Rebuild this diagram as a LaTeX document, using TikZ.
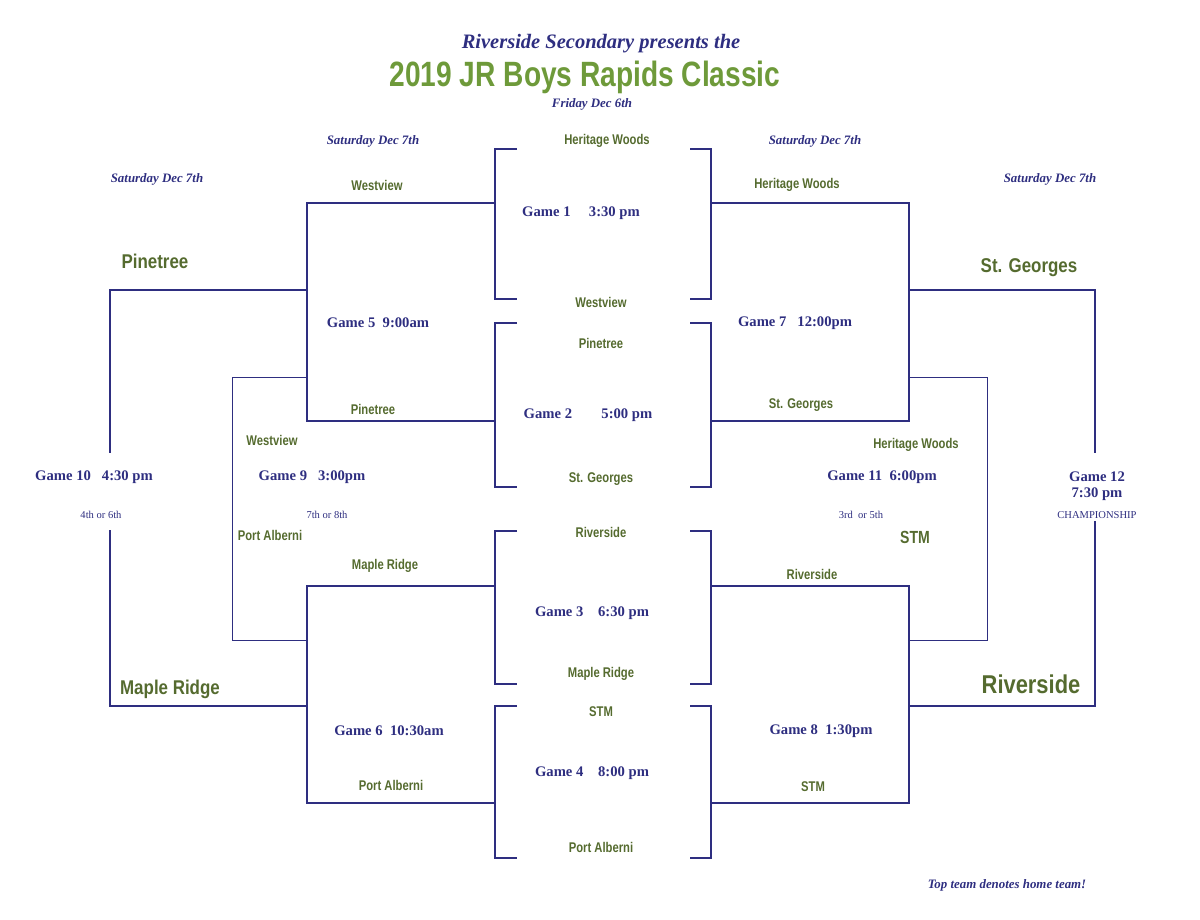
\documentclass[tikz,border=0pt]{standalone}
\usepackage{fontspec}
\setmainfont{Liberation Serif}
\newfontfamily\lab{Liberation Sans}
\definecolor{navy}{HTML}{2E2E80}
\definecolor{grn}{HTML}{556B2F}
\definecolor{ttl}{HTML}{6E9A3A}
\begin{document}
\begin{tikzpicture}[x=0.03cm,y=-0.03cm,
  br/.style={draw=navy,line width=1.6pt},
  thin/.style={draw=navy,line width=0.7pt},
  gm/.style={text=navy,font=\bfseries\fontsize{12.5}{14}\selectfont},
  tm/.style={text=grn,font=\lab\bfseries\fontsize{12}{14}\selectfont,xscale=0.8},
  bt/.style={text=grn,font=\lab\bfseries\fontsize{17}{19}\selectfont,xscale=0.85},
  dt/.style={text=navy,font=\bfseries\itshape\fontsize{11}{13}\selectfont},
  sm/.style={text=navy,font=\fontsize{9}{10}\selectfont}]
\useasboundingbox (0,0) rectangle (1200,919);
% titles
\node[text=navy,font=\bfseries\itshape\fontsize{17.5}{20}\selectfont] (t1) at (601,44) {Riverside Secondary presents the};
\node[text=ttl,font=\lab\bfseries\fontsize{30}{32}\selectfont,xscale=0.8] (t2) at (585,77) {2019 JR Boys Rapids Classic};
\node[dt] (t3) at (592,104) {Friday Dec 6th};
\node[dt] (d1) at (373,141) {Saturday Dec 7th};
\node[dt] (d2) at (815,141) {Saturday Dec 7th};
\node[dt] (d3) at (157,179) {Saturday Dec 7th};
\node[dt] (d4) at (1050,179) {Saturday Dec 7th};
\node[dt] (note) at (1007,885) {Top team denotes home team!};
% center brackets
\foreach \a/\b in {149/299,323/487,531/684,706/858}{
  \draw[br] (517,\a) -- (495,\a) -- (495,\b) -- (517,\b);
  \draw[br] (690,\a) -- (711,\a) -- (711,\b) -- (690,\b);
}
% second round
\draw[br] (495,203) -- (307,203) -- (307,421) -- (495,421);
\draw[br] (711,203) -- (909,203) -- (909,421) -- (711,421);
\draw[br] (495,586) -- (307,586) -- (307,803) -- (495,803);
\draw[br] (711,586) -- (909,586) -- (909,803) -- (711,803);
% finals
\draw[br] (307,290) -- (110,290) -- (110,453);
\draw[br] (110,530) -- (110,706) -- (307,706);
\draw[br] (909,290) -- (1095,290) -- (1095,453);
\draw[br] (1095,521) -- (1095,706) -- (909,706);
\draw[thin] (307,377) -- (232,377) -- (232,640) -- (307,640);
\draw[thin] (909,377) -- (987,377) -- (987,640) -- (909,640);
% game labels
\node[gm] (g1) at (581,213) {Game 1\quad\ 3:30 pm};
\node[gm] (g2) at (588,415) {Game 2\qquad 5:00 pm};
\node[gm] (g3) at (592,613) {Game 3\quad 6:30 pm};
\node[gm] (g4) at (592,773) {Game 4\quad 8:00 pm};
\node[gm] (g5) at (378,323) {Game 5\ \ 9:00am};
\node[gm] (g6) at (389,731) {Game 6\ \ 10:30am};
\node[gm] (g7) at (795,323) {Game 7\ \ \ 12:00pm};
\node[gm] (g8) at (821,731) {Game 8\ \ 1:30pm};
\node[gm] (g9) at (312,477) {Game 9\ \ \ 3:00pm};
\node[gm] (g10) at (94,477) {Game 10\ \ \ 4:30 pm};
\node[gm] (g11) at (882,477) {Game 11\ \ 6:00pm};
\node[gm,align=center] (g12) at (1097,486) {Game 12\\7:30 pm};
\node[sm] (s10) at (101,515) {4th or 6th};
\node[sm] (s9) at (327,515) {7th or 8th};
\node[sm] (s11) at (861,515) {3rd\ \ or 5th};
\node[sm] (s12) at (1097,515) {CHAMPIONSHIP};
% team labels
\node[tm] at (607,141) {Heritage Woods};
\node[tm] at (601,302) {Westview};
\node[tm] at (601,343) {Pinetree};
\node[tm] at (601,479) {St. Georges};
\node[tm] at (601,532) {Riverside};
\node[tm] at (601,674) {Maple Ridge};
\node[tm] at (601,712) {STM};
\node[tm] at (601,847) {Port Alberni};
\node[tm] at (377,185) {Westview};
\node[tm] at (373,409) {Pinetree};
\node[tm] at (385,566) {Maple Ridge};
\node[tm] at (391,785) {Port Alberni};
\node[tm] at (797,185) {Heritage Woods};
\node[tm] at (801,405) {St. Georges};
\node[tm] at (812,574) {Riverside};
\node[tm] at (813,787) {STM};
\node[tm] at (272,440) {Westview};
\node[tm] at (270,535) {Port Alberni};
\node[tm] at (916,445) {Heritage Woods};
\node[tm,font=\lab\bfseries\fontsize{15}{17}\selectfont] at (915,537) {STM};
\node[bt] at (155,261) {Pinetree};
\node[bt] at (170,689) {Maple Ridge};
\node[bt] at (1029,268) {St. Georges};
\node[bt,font=\lab\bfseries\fontsize{22}{24}\selectfont] at (1031,684) {Riverside};
\end{tikzpicture}
\end{document}
